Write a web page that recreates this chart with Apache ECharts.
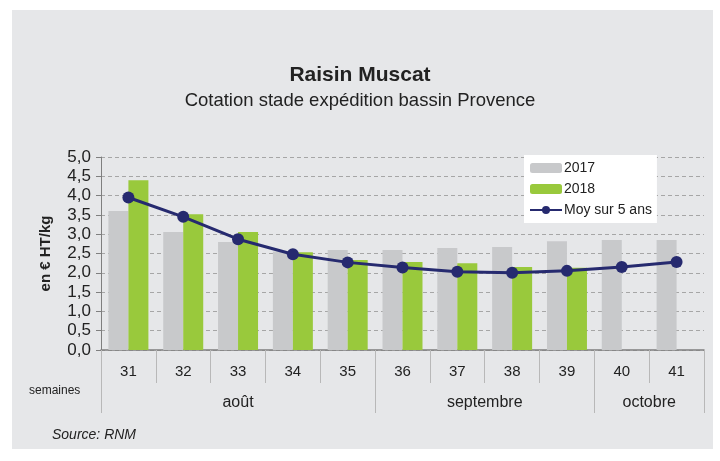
<!DOCTYPE html>
<html>
<head>
<meta charset="utf-8">
<script src="https://cdn.jsdelivr.net/npm/echarts@6/dist/echarts.min.js"></script>
<style>
  html, body { margin: 0; padding: 0; background: #fff; }
  #panel { position: absolute; left: 12px; top: 10px; width: 701px; height: 439px; background: #e6e7e9; }
  #chart { position: absolute; left: 0; top: 0; width: 720px; height: 461px; }
</style>
</head>
<body>
<div id="panel"></div>
<div id="chart"></div>
<script>
// semaines
let weeks = ['31', '32', '33', '34', '35', '36', '37', '38', '39', '40', '41'];
let months = ['août', 'septembre', 'octobre'];
let monthSpans = [5, 4, 2];

let prix2017 = [3.60, 3.06, 2.80, 2.55, 2.59, 2.59, 2.64, 2.67, 2.82, 2.85, 2.85];
let prix2018 = [4.40, 3.52, 3.06, 2.53, 2.33, 2.28, 2.25, 2.15, 2.13, null, null];
let moy5ans = [3.95, 3.45, 2.87, 2.48, 2.27, 2.14, 2.03, 2.00, 2.05, 2.15, 2.28];

// bornes et centres des mois (en unités de catégories)
let bounds = [0];
let centers = [];
monthSpans.forEach(function (n, i) {
    centers.push(bounds[i] + n / 2);
    bounds.push(bounds[i] + n);
});

let chart = echarts.init(document.getElementById('chart'));
let font = 'Liberation Sans, Arial, sans-serif';

let option = {
    backgroundColor: 'transparent',
    textStyle: {fontFamily: font},
    title: [
        {
            text: 'Raisin Muscat',
            left: 'center', top: 60,
            textStyle: {fontSize: 21, fontWeight: 'bold', color: '#222', fontFamily: font}
        },
        {
            text: 'Cotation stade expédition bassin Provence',
            left: 'center', top: 86,
            textStyle: {fontSize: 18.5, fontWeight: 'normal', color: '#222', fontFamily: font}
        },
        {
            text: 'semaines',
            left: 24, top: 380,
            textStyle: {fontSize: 12, fontWeight: 'normal', color: '#222', fontFamily: font}
        },
        {
            text: 'Source: RNM',
            left: 47, top: 423,
            textStyle: {fontSize: 14, fontWeight: 'normal', fontStyle: 'italic', color: '#222', fontFamily: font}
        }
    ],
    legend: {
        orient: 'vertical',
        left: 524, top: 155,
        backgroundColor: '#fff',
        padding: [6, 5, 6, 5],
        itemGap: 7,
        itemWidth: 32,
        itemHeight: 10,
        textStyle: {fontSize: 14, color: '#222', padding: [0, 0, 0, -3]},
        data: ['2017', '2018', 'Moy sur 5 ans']
    },
    grid: {left: 101, right: 16, top: 157, bottom: 111},
    xAxis: [
        {
            type: 'category',
            data: weeks,
            axisLine: {lineStyle: {color: '#7f7f7f', width: 1.5}},
            axisTick: {show: true, interval: 0, length: 33, lineStyle: {color: '#b8b8b8'}},
            axisLabel: {fontSize: 15, color: '#222', margin: 14}
        },
        {
            type: 'value',
            min: 0, max: weeks.length,
            position: 'bottom',
            axisLine: {show: false},
            splitLine: {show: false},
            axisTick: {show: true, customValues: bounds, length: 63, lineStyle: {color: '#b8b8b8'}},
            axisLabel: {
                customValues: centers,
                fontSize: 16, color: '#222', margin: 45,
                formatter: function (v) { return months[centers.indexOf(v)]; }
            }
        }
    ],
    yAxis: {
        type: 'value',
        min: 0, max: 5, interval: 0.5,
        name: 'en € HT/kg',
        nameLocation: 'middle',
        nameGap: 48,
        nameTextStyle: {fontSize: 15, fontWeight: 'bold', color: '#222'},
        axisLine: {show: true, lineStyle: {color: '#7f7f7f'}},
        axisTick: {show: true, length: 5, lineStyle: {color: '#7f7f7f'}},
        axisLabel: {
            fontSize: 17, color: '#222', margin: 10,
            formatter: function (v) { return v.toFixed(1).replace('.', ','); }
        },
        splitLine: {lineStyle: {color: '#a6a6a6', type: [4, 3]}}
    },
    series: [
        {
            name: '2017', type: 'bar', data: prix2017,
            barWidth: 20, barGap: '0%',
            itemStyle: {color: '#c8c9cb'}
        },
        {
            name: '2018', type: 'bar', data: prix2018,
            barWidth: 20,
            itemStyle: {color: '#99c93c'}
        },
        {
            name: 'Moy sur 5 ans', type: 'line', data: moy5ans,
            symbol: 'circle', symbolSize: 12,
            lineStyle: {color: '#262a6f', width: 3},
            itemStyle: {color: '#262a6f'},
            z: 5
        }
    ]
};

chart.setOption(option);
</script>
</body>
</html>
